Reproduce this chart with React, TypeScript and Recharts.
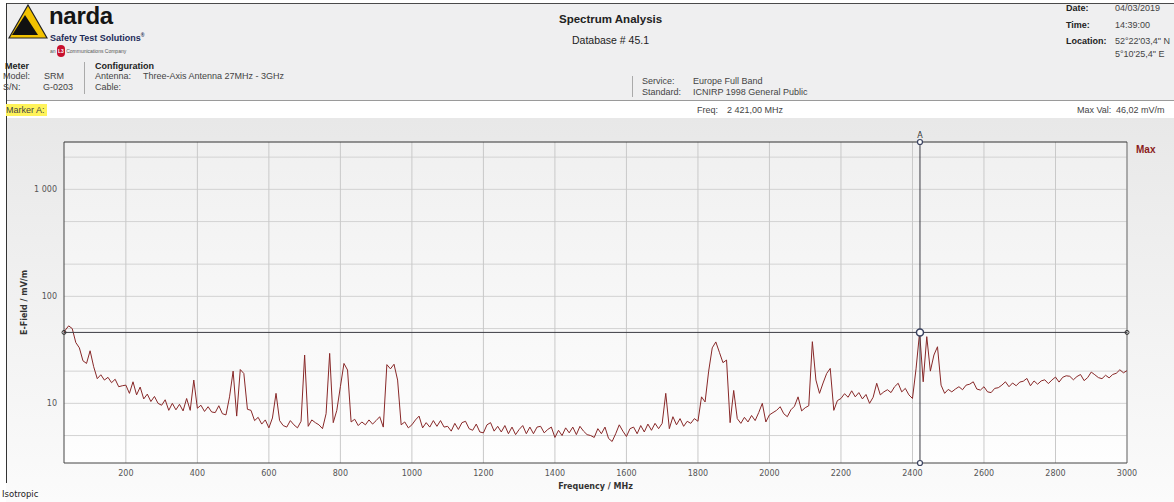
import { LineChart, Line, XAxis, YAxis, ReferenceLine, ReferenceDot } from 'recharts';

const freqMHz = [
  27, 30, 40, 50, 60, 70, 80, 90,
  100, 110, 120, 130, 140, 150, 160, 170, 180, 190,
  200, 210, 220, 230, 240, 250, 260, 270, 280, 290,
  300, 310, 320, 330, 340, 350, 360, 370, 380, 390,
  400, 410, 420, 430, 440, 450, 460, 470, 480, 490,
  500, 510, 520, 530, 540, 550, 560, 570, 580, 590,
  600, 610, 620, 630, 640, 650, 660, 670, 680, 690,
  700, 710, 720, 730, 740, 750, 760, 770, 780, 790,
  800, 810, 820, 830, 840, 850, 860, 870, 880, 890,
  900, 910, 920, 930, 940, 950, 960, 970, 980, 990,
  1000, 1010, 1020, 1030, 1040, 1050, 1060, 1070, 1080, 1090,
  1100, 1110, 1120, 1130, 1140, 1150, 1160, 1170, 1180, 1190,
  1200, 1210, 1220, 1230, 1240, 1250, 1260, 1270, 1280, 1290,
  1300, 1310, 1320, 1330, 1340, 1350, 1360, 1370, 1380, 1390,
  1400, 1410, 1420, 1430, 1440, 1450, 1460, 1470, 1480, 1490,
  1500, 1510, 1520, 1530, 1540, 1550, 1560, 1570, 1580, 1590,
  1600, 1610, 1620, 1630, 1640, 1650, 1660, 1670, 1680, 1690,
  1700, 1710, 1720, 1730, 1740, 1750, 1760, 1770, 1780, 1790,
  1800, 1810, 1820, 1830, 1840, 1850, 1860, 1870, 1880, 1890,
  1900, 1910, 1920, 1930, 1940, 1950, 1960, 1970, 1980, 1990,
  2000, 2010, 2020, 2030, 2040, 2050, 2060, 2070, 2080, 2090,
  2100, 2110, 2120, 2130, 2140, 2150, 2160, 2170, 2180, 2190,
  2200, 2210, 2220, 2230, 2240, 2250, 2260, 2270, 2280, 2290,
  2300, 2310, 2320, 2330, 2340, 2350, 2360, 2370, 2380, 2390,
  2400, 2410, 2420, 2430, 2440, 2450, 2460, 2470, 2480, 2490,
  2500, 2510, 2520, 2530, 2540, 2550, 2560, 2570, 2580, 2590,
  2600, 2610, 2620, 2630, 2640, 2650, 2660, 2670, 2680, 2690,
  2700, 2710, 2720, 2730, 2740, 2750, 2760, 2770, 2780, 2790,
  2800, 2810, 2820, 2830, 2840, 2850, 2860, 2870, 2880, 2890,
  2900, 2910, 2920, 2930, 2940, 2950, 2960, 2970, 2980, 2990,
  3000,
];

const eFieldMvm = [
  45, 48, 53, 50, 37, 33, 25, 23.6,
  31, 22, 17, 18.5, 16.5, 17.5, 15.6, 16.8, 14.3, 14.6,
  14.8, 12.4, 15.9, 12.0, 14.2, 11.0, 12.2, 10.4, 11.6, 10.0,
  9.6, 10.8, 8.6, 10.0, 8.7, 9.8, 8.5, 11.1, 8.6, 16.5,
  9.0, 9.6, 8.4, 9.3, 8.3, 8.2, 9.5, 8.0, 7.8, 11.5,
  20.0, 7.6, 20.7, 19.0, 8.8, 8.6, 6.9, 7.4, 6.4, 7.0,
  5.9, 7.3, 12.4, 6.9, 6.2, 6.0, 6.9, 6.3, 5.9, 6.8,
  28.3, 6.1, 7.0, 6.6, 6.3, 5.8, 8.0, 29.3, 6.6, 8.6,
  14.3, 23.6, 20.5, 6.7, 7.1, 6.2, 6.7, 6.3, 7.0, 6.4,
  6.9, 7.5, 6.0, 23.0, 21.0, 23.2, 16.5, 6.3, 6.7, 5.9,
  6.3, 7.0, 7.6, 5.9, 6.6, 6.0, 6.9, 6.1, 6.9, 6.0,
  6.1, 5.5, 6.5, 5.7, 6.6, 6.8, 5.8, 5.6, 6.4, 5.4,
  5.3, 6.3, 6.6, 5.5, 6.1, 5.4, 6.2, 5.2, 6.0, 5.1,
  5.7, 6.2, 5.2, 6.0, 5.2, 6.0, 6.1, 5.3, 5.7, 6.0,
  4.8, 5.6, 5.0, 5.9, 5.3, 6.0, 5.1, 6.1, 5.5, 5.1,
  5.0, 4.8, 5.8, 5.2, 6.0, 4.7, 4.4, 5.2, 6.3, 5.5,
  4.9, 5.8, 6.0, 5.2, 6.2, 5.4, 6.4, 5.6, 6.5, 5.8,
  6.5, 12.4, 5.8, 7.5, 6.3, 7.2, 6.1, 6.8, 6.5, 7.2,
  6.8, 11.5, 10.3, 20.0, 33.0, 37.5, 30.0, 24.0, 25.4, 6.6,
  13.2, 7.2, 6.5, 7.4, 6.7, 7.7, 6.9, 8.2, 10.0, 6.7,
  7.8, 8.2, 8.6, 9.3, 8.0, 7.5, 8.7, 9.4, 11.5, 8.5,
  9.1, 9.5, 37.7, 16.5, 12.4, 15.5, 19.0, 21.2, 8.6, 10.6,
  11.1, 12.3, 11.4, 13.1, 11.5, 12.6, 11.0, 12.1, 10.0, 11.4,
  15.4, 12.0, 12.8, 13.4, 12.6, 14.3, 15.4, 12.8, 13.8, 12.0,
  11.1, 21.0, 46.0, 15.9, 42.0, 20.0, 28.3, 33.8, 14.8, 12.4,
  13.5, 12.8, 13.6, 14.3, 13.4, 14.8, 15.1, 15.9, 13.6, 13.3,
  14.3, 12.8, 12.6, 13.8, 14.0, 14.8, 15.9, 14.3, 15.5, 14.6,
  15.8, 16.1, 17.1, 14.6, 16.2, 15.1, 16.2, 16.6, 15.3, 16.5,
  17.6, 15.8, 17.5, 18.1, 17.9, 16.6, 17.8, 18.6, 16.3, 17.4,
  19.6, 18.5, 17.4, 17.0, 18.3, 17.3, 18.6, 19.1, 20.6, 19.3,
  20.2,
];

const xTicks = [200, 400, 600, 800, 1000, 1200, 1400, 1600, 1800, 2000, 2200, 2400, 2600, 2800, 3000];
const yTicks = [10, 100, 1000];
const yGrid = [5, 10, 20, 50, 100, 200, 500, 1000, 2000];
const xDomain: [number, number] = [27, 3000];
const yDomain: [number, number] = [2.77, 2770];

const markerFreq = 2421;
const markerValue = 46.02;

const data = freqMHz.map((f, i) => ({ f, v: eFieldMvm[i] }));

const SANS = '"Liberation Sans", Arial, sans-serif';
const VERDANA = '"DejaVu Sans", Verdana, sans-serif';

function T({ x, y, children, size = 9, bold = false, color = '#444', style = {} }: any) {
  return (
    <div
      style={{
        position: 'absolute',
        left: x,
        top: y - 6,
        lineHeight: '12px',
        fontSize: size,
        fontWeight: bold ? 'bold' : 'normal',
        color,
        whiteSpace: 'nowrap',
        ...style,
      }}
    >
      {children}
    </div>
  );
}

export default function App() {
  return (
    <div style={{ position: 'relative', width: 1174, height: 502, overflow: 'hidden', background: '#fff', fontFamily: SANS }}>
      <style>{'body{margin:0}'}</style>

      {/* header */}
      <div style={{ position: 'absolute', left: 6, top: 3, width: 1168, height: 96, background: '#efeff0', borderTop: '1px solid #4a4a4a', borderBottom: '1px solid #9a9a9a' }} />
      {/* chart panel */}
      <div style={{ position: 'absolute', left: 6, top: 118, width: 1168, height: 384, background: 'linear-gradient(#e8e8e8, #fbfbfb)' }} />
      <div style={{ position: 'absolute', left: 64, top: 142, width: 1063, height: 321, background: 'linear-gradient(#f0f0f0, #fefefe)' }} />
      <div style={{ position: 'absolute', left: 6, top: 3, width: 1, height: 480, background: '#333' }} />

      {/* logo */}
      <svg style={{ position: 'absolute', left: 8, top: 4 }} width={40} height={36}>
        <polygon points="20,1 39,34 1,34" fill="#f2c200" stroke="#222" strokeWidth={1.2} />
        <polygon points="17,11 30,31 4,31" fill="#111" />
      </svg>
      <div style={{ position: 'absolute', left: 49, top: 4, fontSize: 24, fontWeight: 'bold', color: '#151515', lineHeight: '24px', letterSpacing: -0.3 }}>narda</div>
      <T x={50} y={35} size={9} bold color="#1c2b58">Safety Test Solutions<sup style={{ fontSize: 5 }}>®</sup></T>
      <T x={50} y={51} size={5} color="#555">
        an <span style={{ display: 'inline-block', background: '#c8102e', color: '#fff', borderRadius: 4, padding: '0 1px', fontWeight: 'bold' }}>L3</span> Communications Company
      </T>

      <T x={5} y={66} bold color="#222">Meter</T>
      <T x={3} y={76}>Model:</T>
      <T x={44} y={76}>SRM</T>
      <T x={3} y={87}>S/N:</T>
      <T x={43} y={87}>G-0203</T>
      <div style={{ position: 'absolute', left: 84, top: 62, width: 1, height: 32, background: '#aaa' }} />
      <T x={95} y={66} bold color="#222">Configuration</T>
      <T x={95} y={76}>Antenna:</T>
      <T x={143} y={76}>Three-Axis Antenna 27MHz - 3GHz</T>
      <T x={95} y={87}>Cable:</T>

      <T x={559} y={19} size={11.5} bold color="#222">Spectrum Analysis</T>
      <T x={572} y={40} size={10.5} color="#222">Database # 45.1</T>

      <div style={{ position: 'absolute', left: 632, top: 76, width: 1, height: 21, background: '#aaa' }} />
      <T x={642} y={81}>Service:</T>
      <T x={693} y={81}>Europe Full Band</T>
      <T x={642} y={92}>Standard:</T>
      <T x={693} y={92}>ICNIRP 1998 General Public</T>

      <T x={1066} y={8} bold color="#222">Date:</T>
      <T x={1115} y={8}>04/03/2019</T>
      <T x={1066} y={25} bold color="#222">Time:</T>
      <T x={1115} y={25}>14:39:00</T>
      <T x={1066} y={41} bold color="#222">Location:</T>
      <T x={1115} y={41}>52°22'03,4" N</T>
      <T x={1115} y={54}>5°10'25,4" E</T>

      {/* marker row */}
      <T x={6} y={110} style={{ background: '#fff35a', paddingRight: 2 }}>Marker A:</T>
      <T x={697} y={110}>Freq:</T>
      <T x={727} y={110}>2 421,00 MHz</T>
      <T x={1077} y={110}>Max Val:</T>
      <T x={1116} y={110}>46,02 mV/m</T>

      <div style={{ position: 'absolute', left: 0, top: 0 }}>
        <LineChart width={1174} height={502} data={data} margin={{ top: 142, right: 47, bottom: 9, left: 8 }}>
          <XAxis
            type="number"
            dataKey="f"
            domain={xDomain}
            ticks={xTicks}
            allowDataOverflow
            axisLine={false}
            tickLine={false}
            tickSize={0}
            tickMargin={7}
            height={30}
            tick={{ fontSize: 8, fill: '#555', fontFamily: VERDANA }}
            label={{ value: 'Frequency / MHz', position: 'insideBottom', offset: 4, fontSize: 8, fontWeight: 'bold', fill: '#333', fontFamily: VERDANA }}
          />
          <YAxis
            type="number"
            scale="log"
            domain={yDomain}
            ticks={yTicks}
            allowDataOverflow
            axisLine={false}
            tickLine={false}
            tickSize={0}
            tickMargin={7}
            width={56}
            tick={{ fontSize: 8, fill: '#555', fontFamily: VERDANA }}
            tickFormatter={(v: number) => (v >= 1000 ? v.toLocaleString('en-US').replace(',', ' ') : String(v))}
            label={{
              content: (p: any) => {
                const vb = p.viewBox;
                const cx = vb.x + 16;
                const cy = vb.y + vb.height / 2;
                return (
                  <text x={cx} y={cy} transform={`rotate(-90, ${cx}, ${cy})`} textAnchor="middle" dominantBaseline="middle" fontSize={8} fontWeight="bold" fill="#333" fontFamily={VERDANA}>
                    E-Field / mV/m
                  </text>
                );
              },
            }}
          />
          {yGrid.map((v) => (
            <ReferenceLine key={`gy-${v}`} y={v} stroke="#d3d3d3" />
          ))}
          {xTicks.map((t) => (
            <ReferenceLine key={`gx-${t}`} x={t} stroke="#c9c9c9" />
          ))}
          <ReferenceLine x={xDomain[0]} stroke="#444" />
          <ReferenceLine x={xDomain[1]} stroke="#777" />
          <ReferenceLine y={yDomain[1]} stroke="#333" />
          <ReferenceLine y={yDomain[0]} stroke="#444" />

          <Line dataKey="v" stroke="#882828" strokeWidth={1} dot={false} isAnimationActive={false} />

          <ReferenceLine y={markerValue} stroke="#3d3d45" />
          <ReferenceLine x={markerFreq} stroke="#3d3d45" label={{ value: 'A', position: 'top', offset: 4, fontSize: 8, fill: '#333', fontFamily: VERDANA }} />
          <ReferenceDot x={markerFreq} y={markerValue} r={3.5} fill="#fff" stroke="#3a4260" strokeWidth={1.5} />
          <ReferenceDot x={markerFreq} y={yDomain[1]} r={2.5} fill="#fff" stroke="#3a4260" strokeWidth={1.2} />
          <ReferenceDot x={markerFreq} y={yDomain[0]} r={2.5} fill="#fff" stroke="#3a4260" strokeWidth={1.2} />
          <ReferenceDot x={xDomain[0]} y={markerValue} r={2} fill="none" stroke="#333" />
          <ReferenceDot x={xDomain[1]} y={markerValue} r={2} fill="none" stroke="#333" />
        </LineChart>
      </div>

      <T x={1136} y={150} size={10} bold color="#8b1c1c">Max</T>
      <div style={{ position: 'absolute', left: 2, top: 488, fontSize: 8.5, fontFamily: VERDANA, color: '#222', lineHeight: '12px' }}>Isotropic</div>
    </div>
  );
}
